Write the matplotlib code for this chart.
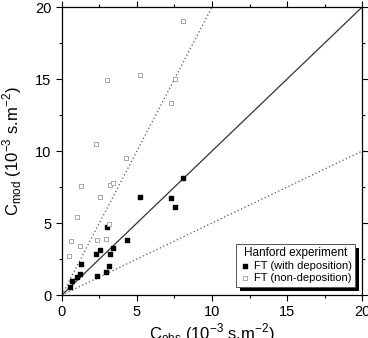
import matplotlib
matplotlib.use("Agg")
import matplotlib.pyplot as plt
import matplotlib.patheffects as pe
from matplotlib.ticker import MultipleLocator

plt.rcParams["font.family"] = ["Liberation Sans", "DejaVu Sans"]
plt.rcParams["mathtext.fontset"] = "custom"
plt.rcParams["mathtext.rm"] = "Liberation Sans"

# DATA (10^-3 s.m^-2)
dep_obs = [0.56, 0.67, 0.98, 1.24, 1.31, 2.27, 2.53, 2.33, 2.96, 3.02,
           3.16, 3.22, 3.40, 4.31, 5.22, 7.27, 7.56, 8.04]
dep_mod = [0.58, 0.97, 1.27, 1.43, 2.13, 2.84, 3.14, 1.32, 1.62, 4.72,
           2.03, 2.87, 3.24, 3.82, 6.82, 6.75, 6.13, 8.16]
nondep_obs = [0.51, 0.62, 1.00, 1.24, 1.31, 2.27, 2.31, 2.53, 2.96, 2.98,
              3.16, 3.24, 3.40, 4.29, 5.22, 7.27, 7.56, 8.04]
nondep_mod = [2.71, 3.79, 5.39, 3.38, 7.58, 10.50, 3.84, 6.80, 3.91, 14.91,
              4.92, 7.63, 7.77, 9.55, 15.28, 13.36, 15.00, 19.03]

ref_x = [0, 20]
ratios = [1, 2, 0.5]

fig = plt.figure(figsize=(3.68, 3.38), dpi=100)
ax = fig.add_axes([0.168, 0.127, 0.816, 0.852])

# reference lines: 1:1 solid, factor 2 dotted
ax.plot(ref_x, [v * ratios[0] for v in ref_x], color="#333333", lw=0.9)
ax.plot(ref_x, [v * ratios[1] for v in ref_x], color="#555555", lw=0.9, ls=(0, (1, 2)))
ax.plot(ref_x, [v * ratios[2] for v in ref_x], color="#555555", lw=0.9, ls=(0, (1, 2)))

ax.scatter(dep_obs, dep_mod, marker="s", s=9, color="black", zorder=3,
           label="FT (with deposition)")
ax.scatter(nondep_obs, nondep_mod, marker="s", s=7, facecolor="white",
           edgecolor="#999999", linewidths=0.6, zorder=3,
           label="FT (non-deposition)")

ax.set_xlim(0, 20)
ax.set_ylim(0, 20)
ax.xaxis.set_major_locator(MultipleLocator(5))
ax.yaxis.set_major_locator(MultipleLocator(5))
ax.xaxis.set_minor_locator(MultipleLocator(2.5))
ax.yaxis.set_minor_locator(MultipleLocator(2.5))
ax.tick_params(which="both", direction="out", top=True, right=True,
               labelsize=10.5, width=0.8)
ax.tick_params(which="major", length=4)
ax.tick_params(which="minor", length=2.5)
for s in ax.spines.values():
    s.set_linewidth(0.9)

ax.set_xlabel(r"C$_{\mathrm{obs}}$ (10$^{-3}$ s.m$^{-2}$)", fontsize=12, labelpad=1.5)
ax.set_ylabel(r"C$_{\mathrm{mod}}$ (10$^{-3}$ s.m$^{-2}$)", fontsize=12, labelpad=8)

leg = ax.legend(title="Hanford experiment", loc="lower right",
                bbox_to_anchor=(0.995, 0.01), fontsize=8, title_fontsize=8.5,
                frameon=True, fancybox=False, framealpha=1,
                handletextpad=0.3, borderpad=0.3, labelspacing=0.2,
                handlelength=1.0, markerscale=1.0)
frame = leg.get_frame()
frame.set_edgecolor("#555555")
frame.set_linewidth(0.7)
frame.set_path_effects([pe.SimplePatchShadow(offset=(3, -3), shadow_rgbFace="black", alpha=1),
                        pe.Normal()])

fig.savefig("out.png", dpi=100)
